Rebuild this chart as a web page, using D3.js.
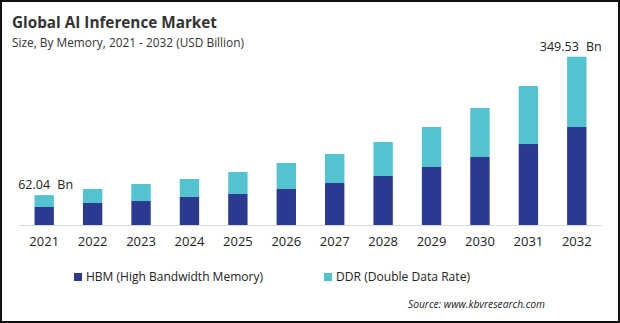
<!DOCTYPE html>
<html>
<head>
<meta charset="utf-8">
<script src="https://cdn.jsdelivr.net/npm/d3@7"></script>
<style>
  html, body { margin: 0; padding: 0; background: #fff; }
  svg { display: block; font-family: "Open Sans", "Noto Sans", sans-serif; }
</style>
</head>
<body>
<svg id="chart" width="620" height="323"></svg>
<script>
// Market size by memory type, USD billion
const years = ["2021","2022","2023","2024","2025","2026","2027","2028","2029","2030","2031","2032"];
const hbm = [37.4, 45.7, 49.8, 58.2, 64.4, 74.8, 87.2, 101.8, 120.5, 141.2, 168.2, 203.5];
const ddr = [24.64, 29.1, 35.4, 37.3, 45.6, 54.0, 60.3, 70.6, 83.0, 101.8, 120.5, 146.03];
const seriesNames = ["HBM (High Bandwidth Memory)", "DDR (Double Data Rate)"];
const seriesColors = ["#2b3990", "#52c3cf"];
const endLabels = [{ year: "2021", text: "62.04 Bn" }, { year: "2032", text: "349.53 Bn" }];

const svg = d3.select("#chart");
const W = 620, H = 323;

// Frame
svg.append("rect").attr("x", 1).attr("y", 1).attr("width", W - 2).attr("height", H - 2)
  .attr("fill", "#fff").attr("stroke", "#111").attr("stroke-width", 2);

// Titles
svg.append("text").attr("x", 12).attr("y", 28)
  .attr("font-size", 16).attr("font-weight", 700).attr("fill", "#333")
  .attr("textLength", 205).attr("lengthAdjust", "spacingAndGlyphs")
  .text("Global AI Inference Market");
svg.append("text").attr("x", 12).attr("y", 47)
  .attr("font-size", 12).attr("fill", "#333")
  .attr("textLength", 232).attr("lengthAdjust", "spacingAndGlyphs")
  .text("Size, By Memory, 2021 - 2032 (USD Billion)");

const rows = years.map((y, i) => ({ year: y, HBM: hbm[i], DDR: ddr[i] }));
const stack = d3.stack().keys(["HBM", "DDR"])(rows);

const x = d3.scaleBand().domain(years).range([20, 601]).paddingInner(0.6).paddingOuter(0.3);
const totals = rows.map(r => r.HBM + r.DDR);
const y = d3.scaleLinear().domain([0, 349.53]).range([225, 56.7]);

// Bars
svg.append("g").selectAll("g").data(stack).join("g")
  .attr("fill", (d, i) => seriesColors[i])
  .selectAll("rect").data(d => d).join("rect")
  .attr("x", d => x(d.data.year))
  .attr("width", x.bandwidth())
  .attr("y", d => y(d[1]))
  .attr("height", d => y(d[0]) - y(d[1]));

// Baseline and year labels
const axis = svg.append("g").attr("transform", "translate(0,225)")
  .call(d3.axisBottom(x).tickSize(0).tickPadding(12));
axis.select(".domain").attr("stroke", "#d9d9d9").attr("d", "M20,0.5H602");
axis.selectAll("text").attr("font-size", 13).attr("fill", "#222")
  .attr("font-family", "\"Open Sans\", \"Noto Sans\", sans-serif");

// Value labels
endLabels.forEach(l => {
  const i = years.indexOf(l.year);
  const cx = x(l.year) + x.bandwidth() / 2;
  svg.append("text")
    .attr("x", i === 0 ? cx - 26 : cx + 25)
    .attr("y", y(totals[i]) - 6)
    .attr("text-anchor", i === 0 ? "start" : "end")
    .attr("font-size", 12.5).attr("fill", "#222")
    .attr("word-spacing", 4)
    .text(l.text);
});

// Legend
const legendX = [74, 324];
const legendLen = [177, 134];
seriesNames.forEach((name, i) => {
  svg.append("rect").attr("x", legendX[i]).attr("y", 273).attr("width", 8).attr("height", 8)
    .attr("fill", seriesColors[i]);
  svg.append("text").attr("x", legendX[i] + 12).attr("y", 281)
    .attr("font-size", 13).attr("fill", "#222")
    .attr("textLength", legendLen[i]).attr("lengthAdjust", "spacingAndGlyphs")
    .text(name);
});

// Source
svg.append("text").attr("x", 545).attr("y", 308).attr("text-anchor", "end")
  .attr("font-size", 11).attr("font-style", "italic").attr("fill", "#222")
  .attr("textLength", 137).attr("lengthAdjust", "spacingAndGlyphs")
  .text("Source: www.kbvresearch.com");
</script>
</body>
</html>
